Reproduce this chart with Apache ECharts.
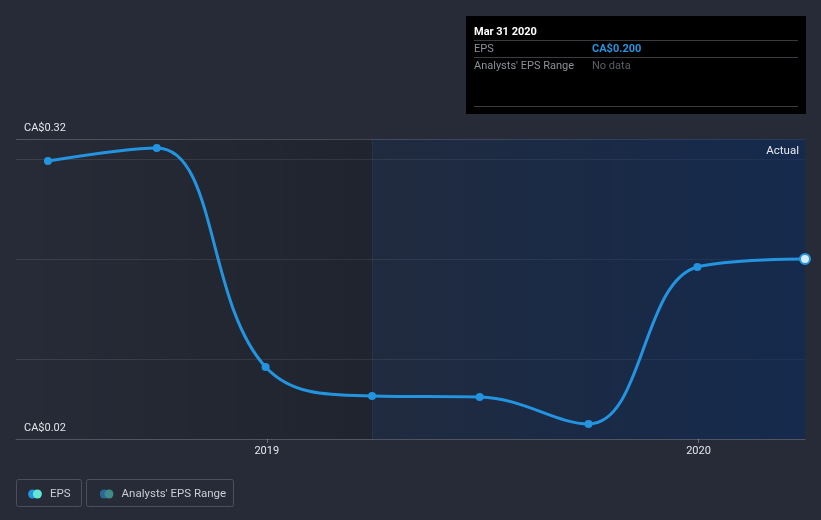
<!DOCTYPE html>
<html>
<head>
<meta charset="utf-8">
<script src="https://cdn.jsdelivr.net/npm/echarts@6/dist/echarts.min.js"></script>
<style>
html,body{margin:0;padding:0;background:#262b37;}
#chart{width:821px;height:520px;}
</style>
</head>
<body>
<div id="chart"></div>
<script>
// ---- data ----
var periodDates = ['2018-06-30','2018-09-30','2018-12-31','2019-03-31','2019-06-30','2019-09-30','2019-12-31','2020-03-31'];
var epsValues = [0.298, 0.311, 0.092, 0.063, 0.062, 0.035, 0.192, 0.200];
var yTickLabels = [0.02, 0.32];
var yGridValues = [0.1, 0.2, 0.3, 0.32];
var xTickYears = ['2019-01-01', '2020-01-01'];
var axisStart = '2018-06-03';
var actualStart = '2019-03-31';
var tooltipTitle = 'Mar 31 2020';
var currencyPrefix = 'CA$';

function t(s){ var p = s.split('-'); return Date.UTC(+p[0], +p[1]-1, +p[2]); }

var blue = '#2394df';
var epsData = periodDates.map(function(d, i){
  var item = { value: [t(d), epsValues[i]] };
  if (i === periodDates.length - 1) {
    item.symbolSize = 10;
    item.itemStyle = { color: '#d4ebfb', borderColor: blue, borderWidth: 2 };
  }
  return item;
});

function svgIcon(c1, c2){
  var svg = '<svg xmlns="http://www.w3.org/2000/svg" width="14" height="10" viewBox="0 0 14 10">' +
    '<circle cx="4.6" cy="5" r="4.5" fill="' + c1 + '"/>' +
    '<circle cx="9.4" cy="5" r="4.5" fill="' + c2 + '"/></svg>';
  return 'image://data:image/svg+xml;charset=utf-8,' + encodeURIComponent(svg);
}

var chart = echarts.init(document.getElementById('chart'), null, {renderer: 'canvas'});
var font = 'Roboto, "Noto Sans", sans-serif';
var lastVal = epsValues[epsValues.length - 1];

var option = {
  backgroundColor: '#262b37',
  animation: false,
  textStyle: { fontFamily: font },
  grid: { left: 16, right: 16, top: 139, bottom: 81 },
  xAxis: {
    type: 'value',
    min: t(axisStart),
    max: t(periodDates[periodDates.length - 1]),
    axisLine: { show: true, lineStyle: { color: 'rgba(255,255,255,0.2)', width: 1 } },
    axisTick: { show: true, length: 4, lineStyle: { color: 'rgba(255,255,255,0.3)' }, customValues: xTickYears.map(t) },
    axisLabel: { color: '#e4e7ec', fontSize: 11, margin: 7, fontFamily: font,
      customValues: xTickYears.map(t),
      formatter: function(v){ return String(new Date(v).getUTCFullYear()); } },
    splitLine: { show: false }
  },
  yAxis: {
    type: 'value',
    min: yTickLabels[0],
    max: yTickLabels[1],
    axisLine: { show: false },
    axisTick: { show: false, customValues: yGridValues },
    splitLine: { show: true, lineStyle: { color: ['rgba(255,255,255,0.1)','rgba(255,255,255,0.1)','rgba(255,255,255,0.1)','rgba(255,255,255,0.2)'], width: 1 } },
    axisLabel: { inside: true, margin: 8, color: '#e4e7ec', fontSize: 11, fontFamily: font,
      verticalAlign: 'bottom', padding: [0,0,5,0],
      customValues: yTickLabels,
      formatter: function(v){ return currencyPrefix + v.toFixed(2); } }
  },
  legend: {
    left: 23, top: 483,
    itemWidth: 14, itemHeight: 10, itemGap: 29,
    textStyle: { color: '#c9cdd4', fontSize: 11.5, fontFamily: font, padding: [0,0,0,3] },
    data: [
      { name: 'EPS', icon: svgIcon('#2394df', '#62e6d6') },
      { name: "Analysts' EPS Range", icon: svgIcon('#2b6795', '#3f8b8b') }
    ],
    selectedMode: false
  },
  series: [
    {
      name: 'EPS',
      type: 'line',
      data: epsData,
      smooth: 0.4,
      symbol: 'circle',
      symbolSize: 8,
      showSymbol: true,
      lineStyle: { color: blue, width: 3 },
      itemStyle: { color: blue },
      z: 5,
      markArea: {
        silent: true,
        data: [
          [ { xAxis: t(axisStart), itemStyle: { color: { type: 'linear', x: 0, y: 0, x2: 1, y2: 0,
                colorStops: [{offset: 0, color: 'rgba(0,0,0,0)'}, {offset: 1, color: 'rgba(0,0,0,0.17)'}] } } },
            { xAxis: t(actualStart) } ],
          [ { xAxis: t(actualStart),
              label: { show: true, formatter: 'Actual', position: 'insideTopRight', color: '#e8eaee', fontSize: 11.5, fontFamily: font, distance: 6 },
              itemStyle: { color: { type: 'linear', x: 0, y: 0, x2: 1, y2: 0,
                colorStops: [{offset: 0, color: 'rgba(10,41,90,0.22)'}, {offset: 1, color: 'rgba(10,41,90,0.62)'}] } } },
            { xAxis: t(periodDates[periodDates.length - 1]) } ]
        ]
      },
      markLine: {
        silent: true,
        symbol: 'none',
        label: { show: false },
        lineStyle: { color: 'rgba(40,85,150,0.25)', width: 1, type: 'solid' },
        data: [ { xAxis: t(actualStart) } ]
      }
    },
    {
      name: "Analysts' EPS Range",
      type: 'line',
      data: []
    }
  ],
  graphic: [
    { type: 'rect', left: 466, top: 16, shape: { width: 340, height: 98 }, style: { fill: '#000000' }, silent: true },
    { type: 'text', left: 474, top: 27, style: { text: tooltipTitle, fill: '#ffffff', font: 'bold 11px ' + font } },
    { type: 'line', shape: { x1: 474, y1: 40.5, x2: 798, y2: 40.5 }, style: { stroke: '#3a3c40', lineWidth: 1 } },
    { type: 'text', left: 474, top: 44, style: { text: 'EPS', fill: '#8c9199', font: '11px ' + font } },
    { type: 'text', left: 592, top: 44, style: { text: currencyPrefix + lastVal.toFixed(3), fill: '#2394df', font: 'bold 11px ' + font } },
    { type: 'line', shape: { x1: 474, y1: 57.5, x2: 798, y2: 57.5 }, style: { stroke: '#3a3c40', lineWidth: 1 } },
    { type: 'text', left: 474, top: 61, style: { text: "Analysts' EPS Range", fill: '#8c9199', font: '11px ' + font } },
    { type: 'text', left: 592, top: 61, style: { text: 'No data', fill: '#5b5f66', font: '11px ' + font } },
    { type: 'line', shape: { x1: 474, y1: 106.5, x2: 798, y2: 106.5 }, style: { stroke: '#3a3c40', lineWidth: 1 } },
    { type: 'rect', shape: { x: 16.5, y: 479.5, width: 65, height: 27, r: 2 }, style: { fill: 'none', stroke: '#4b515c', lineWidth: 1 }, silent: true },
    { type: 'rect', shape: { x: 86.5, y: 479.5, width: 147, height: 27, r: 2 }, style: { fill: 'none', stroke: '#4b515c', lineWidth: 1 }, silent: true }
  ]
};
chart.setOption(option);
</script>
</body>
</html>
